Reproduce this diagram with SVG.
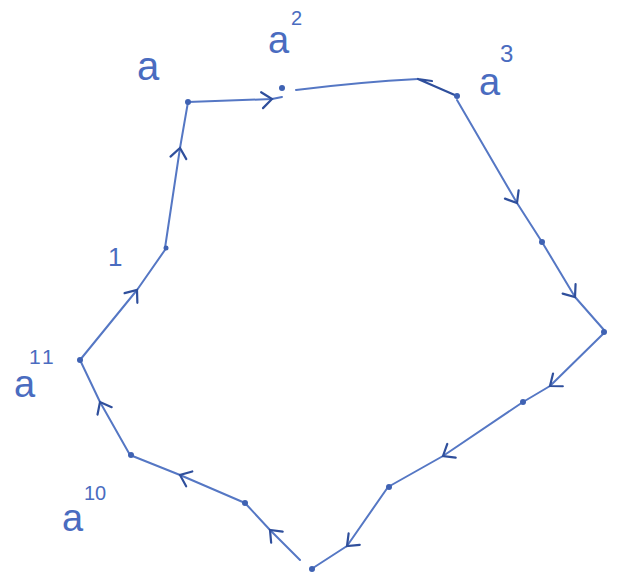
<svg xmlns="http://www.w3.org/2000/svg" width="622" height="585" viewBox="0 0 622 585">
<defs>
<marker id="arr" markerUnits="userSpaceOnUse" markerWidth="30" markerHeight="30" refX="0" refY="0" viewBox="-15 -15 30 30" orient="auto" overflow="visible">
<path d="M -10 -8 L 0 0 L -10 8" fill="none" stroke="#2f4f9c" stroke-width="2.2" stroke-linecap="round"/>
</marker>
</defs>
<style>
.e{fill:none;stroke:#5577c4;stroke-width:2;stroke-linecap:round;stroke-linejoin:round;marker-mid:url(#arr)}
.d{fill:#3f62b3}
.l{font-family:"Liberation Sans",Arial,sans-serif;fill:#4a6cc0}
</style>
<rect width="622" height="585" fill="#ffffff"/>
<g id="connectors">
<path class="e" d="M165,248 L180,148 L188,102"/>
<path class="e" d="M188,102 L272,99 L282,97"/>
<path class="e" d="M296,90 Q360,82 418,79" style="marker-mid:none"/>
<path d="M418,79 L457,96 M418,79 L432,81" fill="none" stroke="#2f4f9c" stroke-width="2.2" stroke-linecap="round"/>
<path class="e" d="M457,100 L517,203 L542,242"/>
<path class="e" d="M542,242 L575,297 L604,330"/>
<path class="e" d="M603,334 L550,386 L523,402"/>
<path class="e" d="M523,402 L443,456 L388,487"/>
<path class="e" d="M388,487 L347,546 L313,568"/>
<path class="e" d="M300,560 L270,530 L245,503"/>
<path class="e" d="M245,503 L180,475 L130,455"/>
<path class="e" d="M130,455 L100,402 L80,360"/>
<path class="e" d="M80,360 L137,290 L167,247"/>
</g>
<g id="n1"><circle class="d" cx="166" cy="248" r="2.5"/><text class="l" x="108" y="266" font-size="26">1</text></g>
<g id="na"><circle class="d" cx="188" cy="102" r="3"/><text class="l" x="137" y="80" font-size="40">a</text></g>
<g id="na2"><circle class="d" cx="282" cy="88" r="3"/><text class="l" x="268" y="53" font-size="38">a</text><text class="l" x="291" y="25" font-size="20">2</text></g>
<g id="na3"><circle class="d" cx="457" cy="96" r="3"/><text class="l" x="479" y="95" font-size="38">a</text><text class="l" x="500" y="62" font-size="24">3</text></g>
<g id="na4"><circle class="d" cx="542" cy="242" r="3"/></g>
<g id="na5"><circle class="d" cx="604" cy="332" r="3"/></g>
<g id="na6"><circle class="d" cx="523" cy="402" r="3"/></g>
<g id="na7"><circle class="d" cx="389" cy="487" r="3"/></g>
<g id="na8"><circle class="d" cx="312" cy="569" r="3"/></g>
<g id="na9"><circle class="d" cx="245" cy="503" r="3"/></g>
<g id="na10"><circle class="d" cx="131" cy="455" r="3"/><text class="l" x="62" y="531" font-size="38">a</text><text class="l" x="84" y="500" font-size="20">10</text></g>
<g id="na11"><circle class="d" cx="80" cy="360" r="3"/><text class="l" x="14" y="397" font-size="38">a</text><text class="l" x="29" y="364" font-size="21" letter-spacing="3">11</text></g>
</svg>
